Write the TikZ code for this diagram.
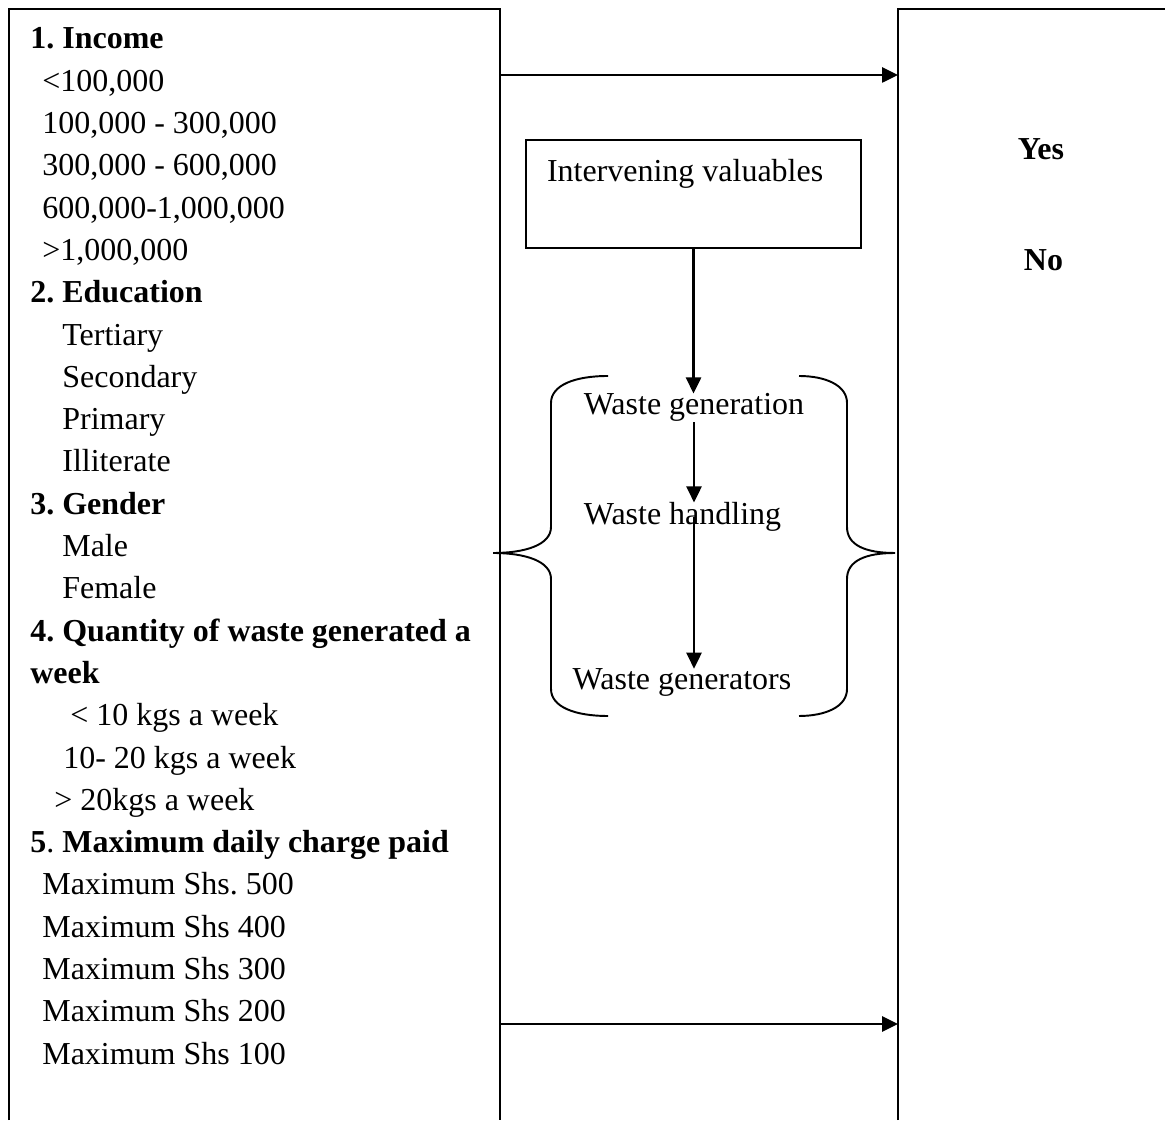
\documentclass[tikz,border=0pt]{standalone}
\usepackage{fontspec}
\setmainfont{Liberation Serif}
\usetikzlibrary{arrows.meta}
\usetikzlibrary{positioning}

\tikzset{
  txt/.style={font=\fontsize{18.2pt}{24.07pt}\selectfont\frenchspacing, inner sep=0pt},
  frame/.style={line width=1.3pt},
  conn/.style={line width=1.5pt, -{Triangle[length=0.32cm,width=0.3cm]}},
  brace/.style={line width=1.1pt},
}

\begin{document}
\begin{tikzpicture}
  \useasboundingbox (0,0) rectangle (23.3,22.4);

  % 枠
  \draw[frame] (0.18,0) |- (10,22.22) -- (10,0);
  \draw[frame] (17.96,0) |- (23.3,22.22);

  % 左の項目
  \node[txt, align=left, anchor=north west] (factors) at (0.6,21.85) {%
    \textbf{1. Income}\\
    \hspace*{0.24cm}<100,000\\
    \hspace*{0.24cm}100,000 - 300,000\\
    \hspace*{0.24cm}300,000 - 600,000\\
    \hspace*{0.24cm}600,000-1,000,000\\
    \hspace*{0.24cm}>1,000,000\\
    \textbf{2. Education}\\
    \hspace*{0.64cm}Tertiary\\
    \hspace*{0.64cm}Secondary\\
    \hspace*{0.64cm}Primary\\
    \hspace*{0.64cm}Illiterate\\
    \textbf{3. Gender}\\
    \hspace*{0.64cm}Male\\
    \hspace*{0.64cm}Female\\
    \textbf{4. Quantity of waste generated a}\\
    \textbf{week}\\
    \hspace*{0.8cm}< 10 kgs a week\\
    \hspace*{0.66cm}10- 20 kgs a week\\
    \hspace*{0.48cm}> 20kgs a week\\
    \textbf{5}. \textbf{Maximum daily charge paid}\\
    \hspace*{0.24cm}Maximum Shs. 500\\
    \hspace*{0.24cm}Maximum Shs 400\\
    \hspace*{0.24cm}Maximum Shs 300\\
    \hspace*{0.24cm}Maximum Shs 200\\
    \hspace*{0.24cm}Maximum Shs 100};

  % 右の項目
  \node[txt, anchor=base] (yes) at (20.82,19.2) {\textbf{Yes}};
  \node[txt, anchor=base] (no) at (20.87,16.98) {\textbf{No}};

  % 中央
  \node[txt, draw, line width=0.9pt, text width=5.86cm, align=flush left,
    inner xsep=0.42cm, inner ysep=0.18cm, text height=0.66cm, text depth=1.14cm]
    (iv) at (13.87,18.52) {Intervening valuables};
  \node[txt, anchor=base] (gen) at (13.88,14.1) {Waste generation};
  \node[txt, anchor=base] (hand) at (13.65,11.9) {Waste handling};
  \node[txt, anchor=base] (gens) at (13.64,8.6) {Waste generators};

  \draw[conn] (iv.south) -- (iv.south |- gen.north);
  \draw[conn] (gen.south) -- (gen.south |- hand.north);
  \draw[conn] (gen.south |- hand.center) -- (gen.south |- gens.north);

  % 横の矢印
  \coordinate (l1) at (10,20.9);
  \coordinate (r1) at (17.96,20.9);
  \coordinate (l2) at (10,1.92);
  \coordinate (r2) at (17.96,1.92);
  \draw[conn] (l1) -- (r1);
  \draw[conn] (l2) -- (r2);

  % 括弧
  \draw[brace] (12.16,14.88) .. controls (11.5,14.88) and (11.02,14.7) .. (11.02,14.34)
    -- (11.02,11.86) .. controls (11.02,11.5) and (10.5,11.34) .. (9.86,11.34)
    .. controls (10.5,11.34) and (11.02,11.18) .. (11.02,10.82)
    -- (11.02,8.62) .. controls (11.02,8.26) and (11.5,8.08) .. (12.16,8.08);
  \draw[brace] (15.98,14.88) .. controls (16.5,14.88) and (16.94,14.7) .. (16.94,14.34)
    -- (16.94,11.86) .. controls (16.94,11.5) and (17.3,11.34) .. (17.9,11.34)
    .. controls (17.3,11.34) and (16.94,11.18) .. (16.94,10.82)
    -- (16.94,8.62) .. controls (16.94,8.26) and (16.5,8.08) .. (15.98,8.08);
\end{tikzpicture}
\end{document}
